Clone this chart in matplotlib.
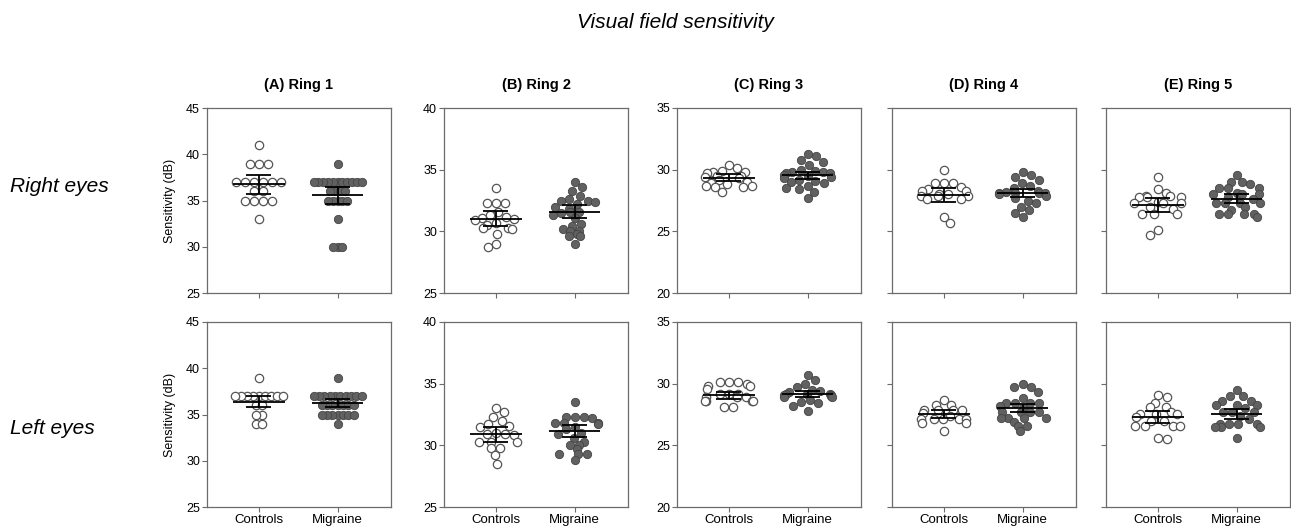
import numpy as np
import matplotlib
matplotlib.use('Agg')
import matplotlib.pyplot as plt

plt.rcParams['font.family'] = ['Liberation Sans', 'DejaVu Sans']

# Panel titles and axis ranges
ring_titles = ['(A) Ring 1', '(B) Ring 2', '(C) Ring 3', '(D) Ring 4', '(E) Ring 5']
ylims = [(25, 45), (25, 40), (20, 35), (20, 35), (20, 35)]
yticks = [[25, 30, 35, 40, 45], [25, 30, 35, 40], [20, 25, 30, 35], [20, 25, 30, 35], [20, 25, 30, 35]]
groups = ['Controls', 'Migraine']
row_names = ['Right eyes', 'Left eyes']

# Right eyes, individual values (dB)
ctrl_right_r1 = [41, 39, 39, 39, 37, 37, 37, 37, 37, 37, 36, 36, 35, 35, 35, 35, 33]
mig_right_r1 = [39] + [37] * 11 + [36] * 4 + [35] * 5 + [33, 30, 30, 30]
ctrl_right_r2 = [33.5, 32.3, 32.3, 32.3, 31.6, 31.3, 31.2, 31.1, 31.0, 30.9, 30.7, 30.5,
                 30.3, 30.3, 30.2, 29.8, 29.0, 28.7]
mig_right_r2 = [34.0, 33.6, 33.3, 32.9, 32.6, 32.5, 32.5, 32.4, 32.2, 32.0, 31.8, 31.6, 31.6,
                31.5, 31.3, 31.1, 30.6, 30.4, 30.2, 30.0, 30.0, 29.8, 29.6, 29.6, 29.0]
ctrl_right_r3 = [30.4, 30.1, 29.9, 29.8, 29.8, 29.7, 29.5, 29.5, 29.4, 29.3, 29.2, 29.0,
                 28.9, 28.8, 28.7, 28.7, 28.6, 28.6, 28.2]
mig_right_r3 = [31.3, 31.1, 30.8, 30.6, 30.4, 30.0, 29.9, 29.8, 29.8, 29.7, 29.7, 29.6,
                29.5, 29.4, 29.3, 29.2, 29.1, 29.0, 28.9, 28.7, 28.5, 28.4, 28.2, 27.7]
ctrl_right_r4 = [30.0, 28.9, 28.9, 28.9, 28.6, 28.4, 28.3, 28.3, 28.0, 28.0, 27.9, 27.9,
                 27.9, 27.6, 27.6, 26.2, 25.7]
mig_right_r4 = [29.8, 29.6, 29.4, 29.2, 28.9, 28.7, 28.5, 28.3, 28.2, 28.1, 28.1, 28.1,
                28.1, 28.0, 27.9, 27.7, 27.5, 27.3, 27.0, 26.7, 26.5, 26.2]
ctrl_right_r5 = [29.4, 28.4, 28.1, 27.9, 27.9, 27.8, 27.8, 27.8, 27.4, 27.3, 27.3, 27.3,
                 27.0, 26.8, 26.4, 26.4, 26.4, 25.1, 24.7]
mig_right_r5 = [29.6, 29.0, 29.0, 28.8, 28.5, 28.5, 28.5, 28.1, 28.0, 28.0, 28.0, 27.8,
                27.6, 27.3, 27.3, 27.3, 27.3, 27.0, 26.7, 26.4, 26.4, 26.4, 26.4, 26.2]

# Left eyes, individual values (dB)
ctrl_left_r1 = [39] + [37] * 9 + [36, 36, 35, 35, 34, 34]
mig_left_r1 = [39] + [37] * 10 + [36] * 7 + [35] * 7 + [34]
ctrl_left_r2 = [33.0, 32.7, 32.3, 32.0, 31.7, 31.6, 31.5, 31.0, 30.9, 30.9, 30.8, 30.3,
                30.3, 30.3, 29.8, 29.8, 29.2, 28.5]
mig_left_r2 = [33.5, 32.3, 32.3, 32.3, 32.2, 31.8, 31.8, 31.8, 31.7, 31.5, 31.3, 31.0,
               30.9, 30.6, 30.3, 30.0, 30.0, 29.7, 29.3, 29.3, 29.3, 28.8]
ctrl_left_r3 = [30.1, 30.1, 30.1, 30.0, 29.8, 29.8, 29.6, 29.2, 29.2, 29.2, 28.9, 28.9,
                28.9, 28.6, 28.6, 28.6, 28.6, 28.1, 28.1]
mig_left_r3 = [30.7, 30.3, 30.0, 29.7, 29.5, 29.4, 29.3, 29.2, 29.2, 29.2, 29.1, 29.1,
               29.0, 28.9, 28.9, 28.7, 28.5, 28.4, 28.2, 27.8]
ctrl_left_r4 = [28.7, 28.3, 28.3, 27.9, 27.9, 27.9, 27.9, 27.6, 27.4, 27.1, 27.1, 27.1,
                27.1, 27.1, 26.8, 26.8, 26.2]
mig_left_r4 = [30.0, 29.7, 29.7, 29.3, 28.8, 28.4, 28.4, 28.4, 28.4, 28.2, 28.0, 27.7,
               27.7, 27.7, 27.7, 27.2, 27.2, 27.2, 27.2, 26.9, 26.6, 26.6, 26.2]
ctrl_left_r5 = [29.1, 28.9, 28.4, 28.1, 28.1, 27.7, 27.5, 27.5, 27.5, 27.3, 27.0, 27.0,
                26.6, 26.6, 26.6, 26.6, 25.6, 25.5]
mig_left_r5 = [29.5, 29.0, 29.0, 28.6, 28.6, 28.3, 28.3, 28.3, 28.0, 27.7, 27.7, 27.7,
               27.4, 27.1, 26.7, 26.7, 26.7, 26.7, 26.5, 26.5, 26.5, 25.6]

# Mean and 95% CI (rings 1-5)
mean_ctrl_right = [36.76, 31.03, 29.35, 27.93, 27.17]
lo_ctrl_right = [35.70, 30.43, 29.08, 27.39, 26.60]
hi_ctrl_right = [37.80, 31.63, 29.62, 28.48, 27.74]
mean_mig_right = [35.55, 31.58, 29.55, 28.07, 27.66]
lo_mig_right = [34.60, 31.09, 29.25, 27.80, 27.30]
hi_mig_right = [36.50, 32.17, 29.85, 28.40, 28.00]
mean_ctrl_left = [36.39, 30.90, 29.05, 27.54, 27.27]
lo_ctrl_left = [35.77, 30.30, 28.75, 27.19, 26.78]
hi_ctrl_left = [36.96, 31.49, 29.35, 27.90, 27.76]
mean_mig_left = [36.21, 31.14, 29.16, 28.05, 27.54]
lo_mig_left = [35.81, 30.65, 28.95, 27.70, 27.10]
hi_mig_left = [36.68, 31.65, 29.40, 28.35, 27.97]

rows = [
    dict(ctrl=[ctrl_right_r1, ctrl_right_r2, ctrl_right_r3, ctrl_right_r4, ctrl_right_r5],
         mig=[mig_right_r1, mig_right_r2, mig_right_r3, mig_right_r4, mig_right_r5],
         stats=[(mean_ctrl_right, lo_ctrl_right, hi_ctrl_right),
                (mean_mig_right, lo_mig_right, hi_mig_right)]),
    dict(ctrl=[ctrl_left_r1, ctrl_left_r2, ctrl_left_r3, ctrl_left_r4, ctrl_left_r5],
         mig=[mig_left_r1, mig_left_r2, mig_left_r3, mig_left_r4, mig_left_r5],
         stats=[(mean_ctrl_left, lo_ctrl_left, hi_ctrl_left),
                (mean_mig_left, lo_mig_left, hi_mig_left)]),
]


def swarm_offsets(ypx, d, max_half, soft):
    # beeswarm in pixel space, balancing left/right; tied rows centred
    xs = np.zeros(len(ypx))
    placed = []
    n_right = n_left = 0
    for i in np.argsort(-ypx, kind='stable'):
        y = ypx[i]
        cands = [0.0]
        for px, py in placed:
            dy = abs(y - py)
            if dy < d:
                dx = np.sqrt(d * d - dy * dy)
                cands += [px + dx, px - dx]
        side = 1 if n_right <= n_left else -1
        cands.sort(key=lambda c: (round(abs(c) / 2.0), -side * c))
        best = cands[-1]
        for c in cands:
            if all((c - px) ** 2 + (y - py) ** 2 >= d * d - 1e-6 for px, py in placed):
                best = c
                break
        xs[i] = best
        placed.append((best, y))
        if best > 0.5:
            n_right += 1
        elif best < -0.5:
            n_left += 1
    for v in np.unique(ypx):
        tie = ypx == v
        if tie.sum() > 1:
            xs[tie] -= xs[tie].mean()
    if soft:
        # keep the core as is, pull stray points back towards the column
        big = np.abs(xs) > 0.6 * max_half
        xs[big] = np.sign(xs[big]) * (0.6 * max_half + 0.4 * max_half *
                                      np.tanh((np.abs(xs[big]) - 0.6 * max_half) / (0.4 * max_half)))
    else:
        m = np.abs(xs).max()
        if m > max_half:
            xs *= max_half / m
    return xs


W, H = 1291, 527
fig = plt.figure(figsize=(W / 100, H / 100), dpi=100)

col_left = [207, 444, 677, 892, 1106]
ax_w = 184
row_top = [108, 322]
ax_h = 185
spine_col = '#6b6b6b'

for r, row in enumerate(rows):
    for c in range(5):
        ax = fig.add_axes([col_left[c] / W, 1 - (row_top[r] + ax_h) / H, ax_w / W, ax_h / H])
        ax.set_xlim(-0.66, 1.68)
        ax.set_ylim(*ylims[c])
        ax.set_yticks(yticks[c])
        ax.set_xticks([0, 1])
        for s in ax.spines.values():
            s.set_color(spine_col)
            s.set_linewidth(0.9)
        ax.tick_params(direction='out', length=3.5, width=0.8, color=spine_col,
                       labelsize=9, pad=1.5)
        if c >= 3:
            ax.set_yticklabels([])
        if r == 0:
            ax.set_xticklabels([])
            ax.set_title(ring_titles[c], fontsize=10.5, fontweight='bold', pad=14)
        else:
            ax.set_xticklabels(groups, fontsize=9.5)
        if c == 0:
            ax.set_ylabel('Sensitivity (dB)', fontsize=9, labelpad=7)

        ppu_x = ax.transData.transform((1, 0))[0] - ax.transData.transform((0, 0))[0]
        for g, vals in enumerate([row['ctrl'][c], row['mig'][c]]):
            vals = np.asarray(vals, dtype=float)
            ypx = ax.transData.transform(np.column_stack([np.zeros_like(vals), vals]))[:, 1]
            off = swarm_offsets(ypx, 9.0, 24.0, soft=(c > 0))
            xs = g + off / ppu_x
            if g == 0:
                ax.scatter(xs, vals, s=36, facecolor='white', edgecolor='#555555',
                           linewidths=0.9, zorder=2, clip_on=False)
            else:
                ax.scatter(xs, vals, s=36, facecolor='#616161', edgecolor='#454545',
                           linewidths=0.6, zorder=2, clip_on=False)
            mean, lo, hi = (row['stats'][g][k][c] for k in range(3))
            ax.hlines(mean, g - 0.33, g + 0.33, color='black', lw=1.3, zorder=4)
            ax.hlines([lo, hi], g - 0.16, g + 0.16, color='black', lw=1.3, zorder=4)
            ax.vlines(g, lo, hi, color='black', lw=1.3, zorder=4)

fig.text(0.523, 0.958, 'Visual field sensitivity', fontsize=15, fontstyle='italic',
         ha='center', va='center')
fig.text(0.008, 1 - 186 / H, row_names[0], fontsize=15, fontstyle='italic',
         ha='left', va='center')
fig.text(0.008, 1 - 428 / H, row_names[1], fontsize=15, fontstyle='italic',
         ha='left', va='center')

fig.savefig('out.png', dpi=100)
